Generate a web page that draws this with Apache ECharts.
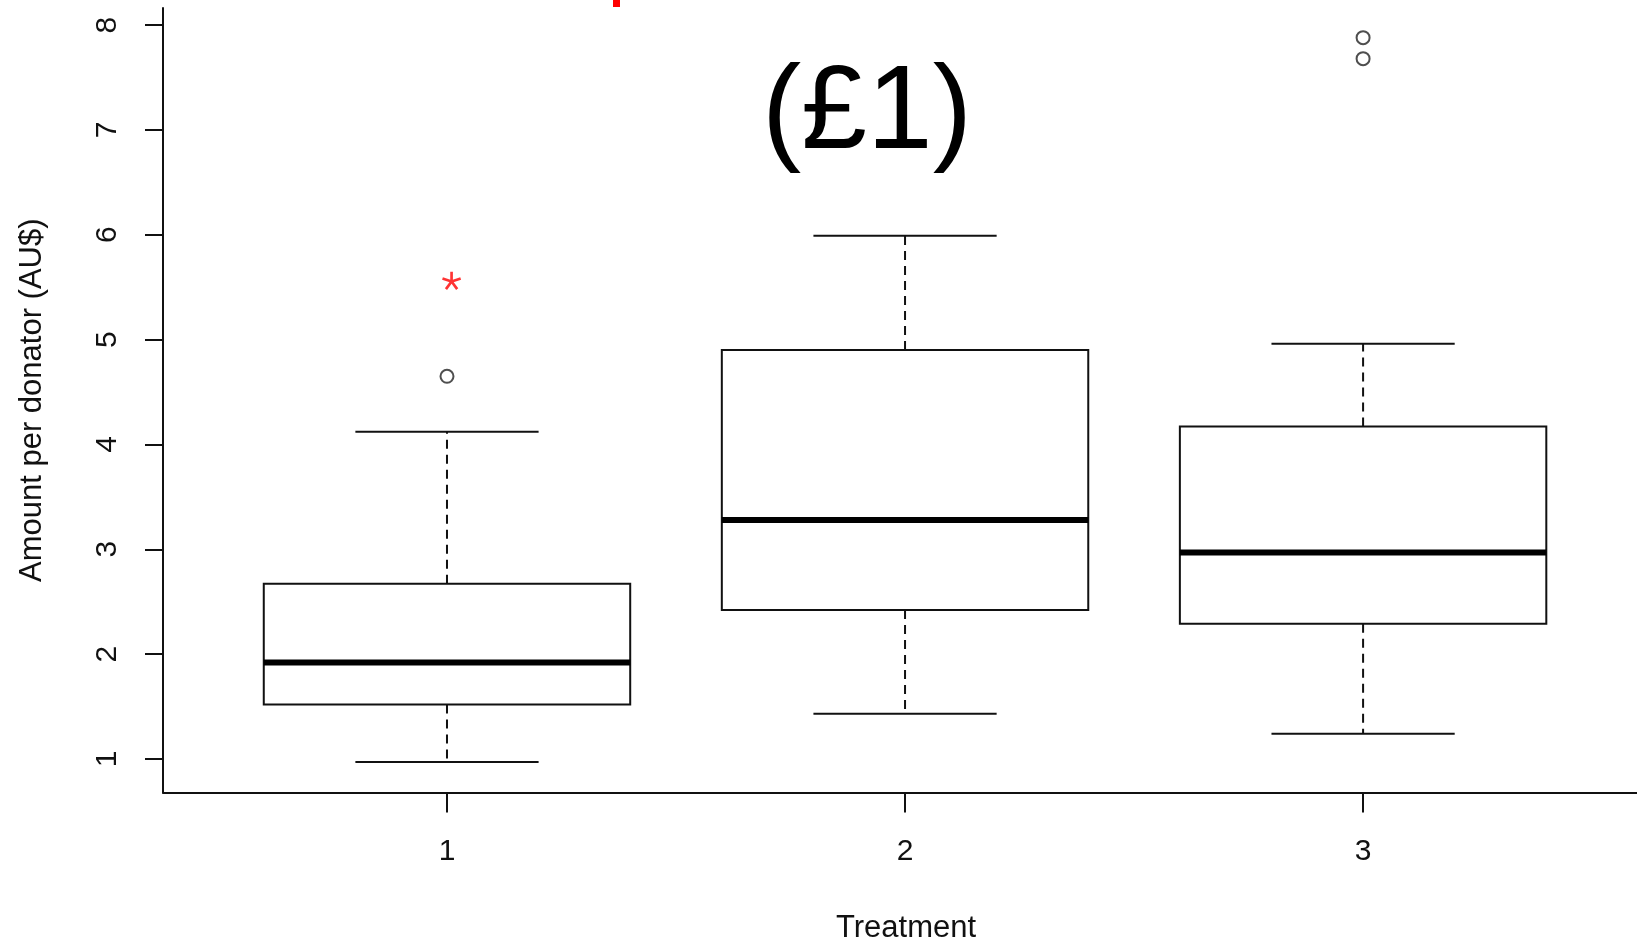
<!DOCTYPE html>
<html>
<head>
<meta charset="utf-8">
<script src="https://cdn.jsdelivr.net/npm/echarts@6/dist/echarts.min.js"></script>
<style>
  html, body { margin: 0; padding: 0; background: #ffffff; }
  #chart { width: 1637px; height: 944px; }
</style>
</head>
<body>
<div id="chart"></div>
<script>
// ---- data ----
const categories = [1, 2, 3];
const lowerWhisker = [0.97, 1.43, 1.24];
const q1 = [1.52, 2.42, 2.29];
const median = [1.92, 3.28, 2.97];
const q3 = [2.67, 4.90, 4.17];
const upperWhisker = [4.12, 5.99, 4.96];
const outlierGroup = [1, 3, 3];
const outlierValue = [4.65, 7.68, 7.88];
const starGroup = [1.01];
const starValue = [5.56];
const yTickValues = [1, 2, 3, 4, 5, 6, 7, 8];
const xTickValues = [1, 2, 3];
const yAxisTitle = 'Amount per donator (AU$)';
const xAxisTitle = 'Treatment';
const annotation = '(£1)';

// ---- build library structures ----
const boxData = categories.map((c, i) => [c, lowerWhisker[i], q1[i], median[i], q3[i], upperWhisker[i]]);
const outlierData = outlierGroup.map((g, i) => [g, outlierValue[i]]);
const starData = starGroup.map((g, i) => [g, starValue[i]]);

// 5-arm asterisk symbol path
function asteriskPath() {
  const L = 10, w = 1.4;
  let d = '';
  for (let k = 0; k < 5; k++) {
    const a = -Math.PI / 2 + k * 2 * Math.PI / 5;
    const dx = Math.cos(a), dy = Math.sin(a);
    const px = -dy * w, py = dx * w;
    const pts = [[px, py], [px + dx * L, py + dy * L], [-px + dx * L, -py + dy * L], [-px, -py]];
    d += 'M' + pts.map(p => (p[0] + 12).toFixed(3) + ' ' + (p[1] + 12).toFixed(3)).join(' L') + ' Z ';
  }
  return 'path://' + d;
}

const BOX_HALF = 0.4, STAPLE_HALF = 0.2;
const ink = '#111111';
const font = '"Liberation Sans", Arial, Helvetica, sans-serif';

const chart = echarts.init(document.getElementById('chart'), null, { renderer: 'canvas' });
chart.setOption({
  backgroundColor: '#ffffff',
  animation: false,
  textStyle: { fontFamily: font },
  grid: { left: 163, right: 0, top: 8, bottom: 151.5, outerBoundsMode: 'none', containLabel: false },
  xAxis: {
    type: 'value', min: 0.38, max: 3.598,
    name: xAxisTitle, nameLocation: 'middle', nameGap: 120,
    nameTextStyle: { fontSize: 31, color: ink, fontFamily: font, padding: [0, 0, 0, 12] },
    axisLine: { show: true, onZero: false, lineStyle: { color: ink, width: 2 } },
    axisTick: { show: true, customValues: xTickValues, length: 20, lineStyle: { color: ink, width: 2 } },
    axisLabel: { customValues: xTickValues, fontSize: 30, color: ink, margin: 44, fontFamily: font },
    splitLine: { show: false }
  },
  yAxis: {
    type: 'value', min: 0.68, max: 8.163,
    name: yAxisTitle, nameLocation: 'middle', nameGap: 115,
    nameTextStyle: { fontSize: 31, color: ink, fontFamily: font },
    axisLine: { show: true, onZero: false, lineStyle: { color: ink, width: 2 } },
    axisTick: { show: true, customValues: yTickValues, length: 18, lineStyle: { color: ink, width: 2 } },
    axisLabel: { customValues: yTickValues, rotate: 90, fontSize: 30, color: ink, margin: 40, fontFamily: font },
    splitLine: { show: false }
  },
  title: {
    text: annotation, left: 862, top: 110,
    textAlign: 'center', textVerticalAlign: 'middle',
    textStyle: { fontSize: 118, fontWeight: 'normal', color: '#000', fontFamily: font }
  },
  graphic: [
    { type: 'rect', shape: { x: 613, y: 0, width: 7, height: 7 }, style: { fill: '#ff0000' } }
  ],
  series: [
    {
      type: 'custom',
      clip: false,
      data: boxData,
      renderItem: function (params, api) {
        const x = api.value(0);
        const lw = api.coord([x, api.value(1)]);
        const b1 = api.coord([x, api.value(2)]);
        const md = api.coord([x, api.value(3)]);
        const b3 = api.coord([x, api.value(4)]);
        const uw = api.coord([x, api.value(5)]);
        const left = api.coord([x - BOX_HALF, 0])[0];
        const right = api.coord([x + BOX_HALF, 0])[0];
        const sl = api.coord([x - STAPLE_HALF, 0])[0];
        const sr = api.coord([x + STAPLE_HALF, 0])[0];
        const cx = lw[0];
        const dash = { stroke: ink, lineWidth: 2, lineDash: [9, 6] };
        const solid = { stroke: ink, lineWidth: 2 };
        return {
          type: 'group',
          children: [
            { type: 'line', shape: { x1: cx, y1: b3[1], x2: cx, y2: uw[1] }, style: dash },
            { type: 'line', shape: { x1: cx, y1: b1[1], x2: cx, y2: lw[1] }, style: dash },
            { type: 'line', shape: { x1: sl, y1: uw[1], x2: sr, y2: uw[1] }, style: solid },
            { type: 'line', shape: { x1: sl, y1: lw[1], x2: sr, y2: lw[1] }, style: solid },
            { type: 'rect', shape: { x: left, y: b3[1], width: right - left, height: b1[1] - b3[1] },
              style: { fill: '#ffffff', stroke: ink, lineWidth: 2 } },
            { type: 'line', shape: { x1: left, y1: md[1], x2: right, y2: md[1] },
              style: { stroke: '#000', lineWidth: 6 } }
          ]
        };
      }
    },
    {
      type: 'scatter',
      data: outlierData,
      symbol: 'circle',
      symbolSize: 13,
      itemStyle: { color: 'rgba(255,255,255,0)', borderColor: '#222', borderWidth: 2 }
    },
    {
      type: 'scatter',
      data: starData,
      symbol: asteriskPath(),
      symbolKeepAspect: true,
      symbolSize: 19,
      itemStyle: { color: '#ff0000' }
    }
  ]
});
</script>
</body>
</html>
